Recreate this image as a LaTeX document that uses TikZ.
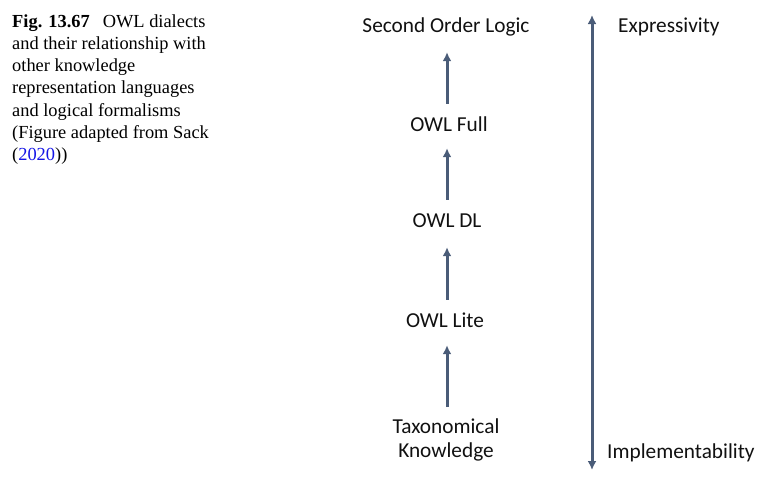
\documentclass[tikz,border=0pt]{standalone}
\usepackage{fontspec}
\setmainfont{Liberation Serif}
\newfontfamily\diafont{Carlito}
\usetikzlibrary{arrows.meta}
\definecolor{arrowcol}{HTML}{4A5C78}
\definecolor{linkblue}{RGB}{20,20,230}
\definecolor{txt}{HTML}{111111}
\begin{document}
\begin{tikzpicture}[x=1pt,y=-1pt,
  capline/.style={anchor=base west,inner sep=0pt,font=\fontsize{18.4}{22}\selectfont},
  level/.style={anchor=base,inner sep=0pt,text height=14pt,text depth=4pt,font=\diafont\fontsize{21.3}{25}\selectfont,text=txt},
  side/.style={anchor=base west,inner sep=0pt,font=\diafont\fontsize{21.3}{25}\selectfont,text=txt},
  uparr/.style={-{Latex[length=9pt,width=9pt]},line width=3pt,draw=arrowcol},
  bigarr/.style={{Latex[length=9pt,width=9pt]}-{Latex[length=9pt,width=9pt]},line width=3pt,draw=arrowcol}]
\useasboundingbox (0,0) rectangle (765,491);
% caption
\node[capline] (c1) at (12,27) {\textbf{Fig. 13.67}\hspace{0.7em}OWL dialects};
\node[capline] (c2) at (12,49.3) {and their relationship with};
\node[capline] (c3) at (12,71.6) {other knowledge};
\node[capline] (c4) at (12,93.9) {representation languages};
\node[capline] (c5) at (12,116.2) {and logical formalisms};
\node[capline] (c6) at (12,138.5) {(Figure adapted from Sack};
\node[capline] (c7) at (12,160.8) {(\textcolor{linkblue}{2020}))};
% levels
\node[level] (sol) at (446,32) {Second Order Logic};
\node[level] (full) at (449,131) {OWL Full};
\node[level] (dl) at (447,227) {OWL DL};
\node[level] (lite) at (445,327) {OWL Lite};
\node[anchor=north,inner sep=0pt,align=center,font=\diafont\fontsize{21.3}{24}\selectfont,text=txt] (tax) at (446,418) {Taxonomical\\Knowledge};
% arrows
\draw[uparr,shorten <=13pt,shorten >=16pt] (full.north -| 447,0) -- (sol.south -| 447,0);
\draw[uparr,shorten <=13pt,shorten >=13pt] (dl.north -| 447,0) -- (full.south -| 447,0);
\draw[uparr,shorten <=13pt,shorten >=16pt] (lite.north -| 447,0) -- (dl.south -| 447,0);
\draw[uparr,shorten <=11pt,shorten >=14pt] (tax.north -| 447,0) -- (lite.south -| 447,0);
% scale
\coordinate (top) at (592,15);
\coordinate (bot) at (592,470);
\draw[bigarr] (bot) -- (top);
\node[side] (expr) at (618,32) {Expressivity};
\node[side] (impl) at (607,458) {Implementability};
\end{tikzpicture}
\end{document}
